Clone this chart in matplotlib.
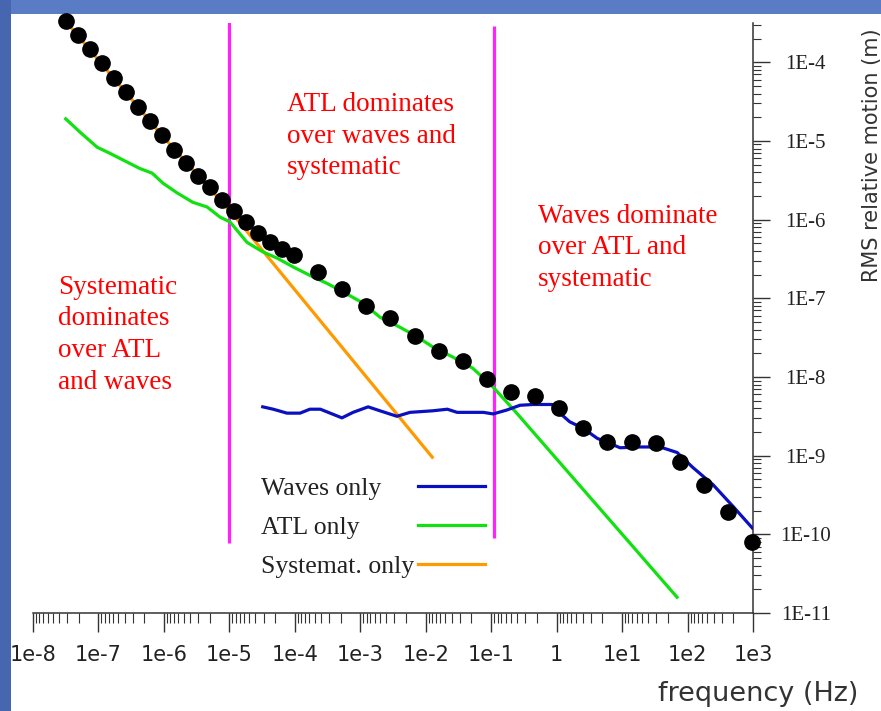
import matplotlib
matplotlib.use("Agg")
import matplotlib.pyplot as plt
import numpy as np
from matplotlib import font_manager
from matplotlib.patches import Rectangle
from matplotlib.ticker import LogLocator, NullFormatter

# total RMS motion (black dots): log10 frequency / log10 metres
total_logf = [-7.50, -7.31, -7.13, -6.95, -6.76, -6.58, -6.40, -6.21, -6.03, -5.85,
              -5.66, -5.48, -5.30, -5.11, -4.93, -4.75, -4.56, -4.38, -4.20, -4.01,
              -3.65, -3.28, -2.91, -2.55, -2.16, -1.80, -1.43, -1.06, -0.70, -0.33,
              0.04, 0.40, 0.77, 1.15, 1.52, 1.89, 2.25, 2.62, 2.99]
total_logy = [-3.48, -3.66, -3.83, -4.01, -4.20, -4.38, -4.57, -4.75, -4.93, -5.11,
              -5.28, -5.44, -5.59, -5.75, -5.89, -6.03, -6.17, -6.29, -6.38, -6.45,
              -6.67, -6.88, -7.10, -7.25, -7.48, -7.67, -7.80, -8.02, -8.19, -8.24,
              -8.40, -8.65, -8.83, -8.83, -8.84, -9.08, -9.37, -9.72, -10.10]

# ATL only (green)
atl_logf = [-7.50, -7.28, -7.02, -6.82, -6.56, -6.37, -6.18, -6.01, -5.80, -5.56,
            -5.34, -5.14, -4.99, -4.73, -4.49, -4.27, -4.03, -3.72, -3.51, -3.26,
            -2.96, -2.70, -2.39, -2.13, -1.89, -1.58, -1.28, -0.97, -0.61, 1.84]
atl_logy = [-4.72, -4.89, -5.08, -5.16, -5.27, -5.35, -5.41, -5.54, -5.66, -5.78,
            -5.84, -5.97, -6.03, -6.29, -6.41, -6.49, -6.60, -6.73, -6.81, -6.92,
            -7.06, -7.24, -7.37, -7.49, -7.62, -7.75, -7.89, -8.13, -8.46, -10.80]

# systematic only (orange)
sys_logf = [-7.50, -6.03, -4.93, -1.90]
sys_logy = [-3.48, -4.93, -5.95, -9.02]

# waves only (blue)
waves_logf = [-4.49, -4.33, -4.12, -3.92, -3.77, -3.61, -3.46, -3.28, -3.11, -2.88,
              -2.70, -2.44, -2.24, -1.89, -1.67, -1.52, -1.12, -0.97, -0.76, -0.56,
              -0.36, -0.07, 0.05, 0.20, 0.40, 0.62, 0.97, 1.27, 1.58, 1.84,
              2.08, 2.39, 2.70, 2.99]
waves_logy = [-8.38, -8.41, -8.46, -8.46, -8.41, -8.41, -8.46, -8.52, -8.45, -8.38,
              -8.43, -8.50, -8.45, -8.43, -8.41, -8.45, -8.45, -8.47, -8.42, -8.36,
              -8.35, -8.35, -8.46, -8.57, -8.65, -8.78, -8.90, -8.89, -8.89, -8.96,
              -9.15, -9.37, -9.65, -9.92]

# regime boundaries (Hz) and their vertical extent (m)
boundary_hz = [1.0e-5, 1.1e-1]
boundary_top = [3.2e-4, 2.9e-4]
boundary_bottom = [7.8e-11, 9.1e-11]

xticks = [1e-8, 1e-7, 1e-6, 1e-5, 1e-4, 1e-3, 1e-2, 1e-1, 1, 1e1, 1e2, 1e3]
xtick_labels = ["1e-8", "1e-7", "1e-6", "1e-5", "1e-4", "1e-3", "1e-2", "1e-1",
                "1", "1e1", "1e2", "1e3"]
yticks = [1e-4, 1e-5, 1e-6, 1e-7, 1e-8, 1e-9, 1e-10, 1e-11]
ytick_labels = ["1E-4", "1E-5", "1E-6", "1E-7", "1E-8", "1E-9", "1E-10", "1E-11"]

installed = {f.name for f in font_manager.fontManager.ttflist}
if "Liberation Sans Narrow" in installed:
    sans_narrow, xtick_size = ["Liberation Sans Narrow", "DejaVu Sans"], 22
else:
    sans_narrow, xtick_size = ["DejaVu Sans"], 15
serif = ["Liberation Serif", "DejaVu Serif"]

fig = plt.figure(figsize=(8.81, 7.11), dpi=100)
fig.patch.set_facecolor("#5a7cc4")
fig.add_artist(Rectangle((0, 0), 11 / 881, 1, transform=fig.transFigure,
                         facecolor="#4766b0", edgecolor="none", zorder=-2))
fig.add_artist(Rectangle((11 / 881, 0), 1, 697 / 711, transform=fig.transFigure,
                         facecolor="white", edgecolor="none", zorder=-1))

ax = fig.add_axes([33 / 881, 98 / 711, 720 / 881, 590 / 711])
ax.set_facecolor("none")
ax.set_xscale("log")
ax.set_yscale("log")
ax.set_xlim(1e-8, 1e3)
ax.set_ylim(1e-11, 3.15e-4)

lw = 2.3
ax.vlines(boundary_hz, boundary_bottom, boundary_top, color="#ff22ff", lw=lw, zorder=1)
orange, = ax.plot(10 ** np.array(sys_logf), 10 ** np.array(sys_logy),
                  color="#ff9900", lw=lw, zorder=2, label="Systemat. only")
green, = ax.plot(10 ** np.array(atl_logf), 10 ** np.array(atl_logy),
                 color="#11e011", lw=lw, zorder=3, label="ATL only")
blue, = ax.plot(10 ** np.array(waves_logf), 10 ** np.array(waves_logy),
                color="#0a10c0", lw=lw, zorder=3, label="Waves only")
ax.plot(10 ** np.array(total_logf), 10 ** np.array(total_logy), "o",
        color="black", ms=11, zorder=4, clip_on=False)

# regime annotations
red_kw = dict(color="red", fontsize=19.5, family=serif, va="top", ha="left",
              linespacing=1.35)
ax.text(2.4e-8, 2.0e-7, "Systematic\ndominates\nover ATL\nand waves", **red_kw)
ax.text(7.6e-5, 4.2e-5, "ATL dominates\nover waves and\nsystematic", **red_kw)
ax.text(0.52, 1.6e-6, "Waves dominate\nover ATL and\nsystematic", **red_kw)

text_pad = 0.15
leg = ax.legend(handles=[blue, green, orange], loc="lower right",
                bbox_to_anchor=(0.645, 0.038), frameon=False, markerfirst=False,
                handlelength=2.6, handletextpad=text_pad, labelspacing=0.62,
                borderpad=0, prop={"family": serif, "size": 18.5},
                labelcolor="#222222")

# axes: bottom and right spines only
for side in ["top", "left"]:
    ax.spines[side].set_visible(False)
for side in ["bottom", "right"]:
    ax.spines[side].set_color("#333333")
    ax.spines[side].set_linewidth(1.1)

ax.set_xticks(xticks, labels=xtick_labels, family=sans_narrow, fontsize=xtick_size,
              color="#222222")
xminor = [10.0 ** (k + 1) / m for k in range(-8, 3) for m in range(2, 10)]
ax.set_xticks(xminor, minor=True)
ax.xaxis.set_minor_formatter(NullFormatter())
ax.tick_params(axis="x", which="major", direction="out", length=14, width=1.0,
               pad=9, color="#333333")
ax.tick_params(axis="x", which="minor", direction="out", length=7, width=0.8,
               color="#333333")

ax.yaxis.tick_right()
ax.set_yticks(yticks, labels=ytick_labels, family=serif, fontsize=15,
              color="#222222", ha="center")
ax.yaxis.set_minor_locator(LogLocator(base=10, subs=np.arange(2, 10), numticks=50))
ax.yaxis.set_minor_formatter(NullFormatter())
ax.tick_params(axis="y", which="major", direction="out", length=12, width=1.0,
               pad=26, color="#333333")
ax.tick_params(axis="y", which="minor", direction="out", length=6, width=0.8,
               color="#333333")

ax.set_xlabel("frequency (Hz)", family="DejaVu Sans", fontsize=19.5, color="#333333",
              ha="right")
ax.xaxis.set_label_coords(1.146, -0.115)
fig.text(872 / 881, 1 - 155 / 711, "RMS relative motion (m)", rotation=90,
         family="DejaVu Sans", fontsize=15, color="#333333", ha="center", va="center")

# left-align the legend labels: widen the gap before each shorter label's line
fig.canvas.draw()
widths = [t.get_window_extent().width * 72 / fig.dpi for t in leg.get_texts()]
rows = [row for col in leg._legend_handle_box.get_children()
        for row in col.get_children()]
for row, w in zip(rows, widths):
    row.sep = text_pad * 18.5 + (max(widths) - w)

fig.savefig("out.png", dpi=100)
